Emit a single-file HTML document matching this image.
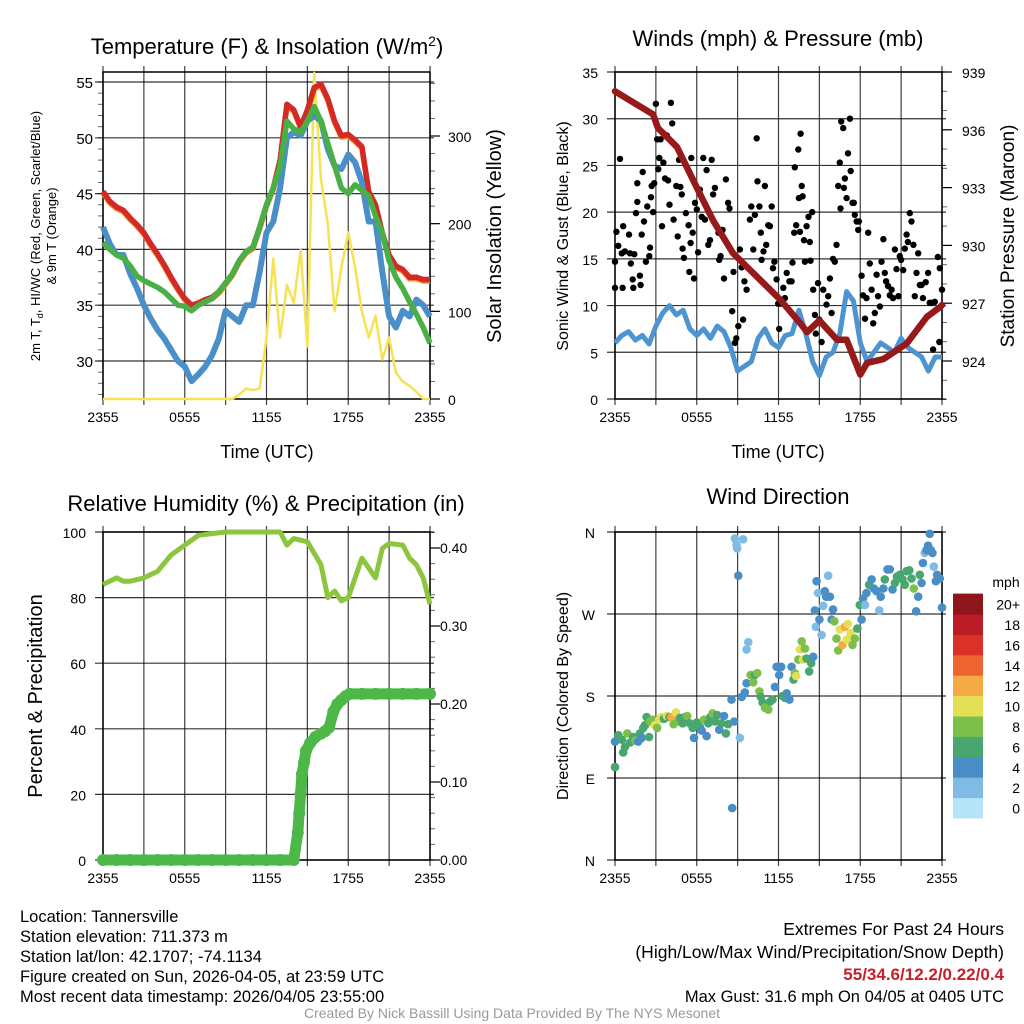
<!DOCTYPE html>
<html><head><meta charset="utf-8"><style>
html,body{margin:0;padding:0;background:#fff;}
svg{display:block;font-family:"Liberation Sans",Arial,sans-serif;}
</style></head><body>
<svg id="fig" width="1024" height="1024" viewBox="0 0 1024 1024" xmlns="http://www.w3.org/2000/svg">
<rect x="0" y="0" width="1024" height="1024" fill="#fff"/>
<g id="p1"></g>
<g id="p2"></g>
<g id="p3"></g>
<g id="p4"></g>
<g font-size="16.5" fill="#000">
<text x="20" y="922">Location: Tannersville</text>
<text x="20" y="942">Station elevation: 711.373 m</text>
<text x="20" y="962">Station lat/lon: 42.1707; -74.1134</text>
<text x="20" y="982">Figure created on Sun, 2026-04-05, at 23:59 UTC</text>
<text x="20" y="1002">Most recent data timestamp: 2026/04/05 23:55:00</text>
</g>
<g text-anchor="end" fill="#000">
<text x="1004" y="935" font-size="17.5">Extremes For Past 24 Hours</text>
<text x="1004" y="958" font-size="17.5">(High/Low/Max Wind/Precipitation/Snow Depth)</text>
<text x="1004" y="980" font-size="17" font-weight="bold" fill="#c8202a">55/34.6/12.2/0.22/0.4</text>
<text x="1004" y="1002" font-size="16.5">Max Gust: 31.6 mph On 04/05 at 0405 UTC</text>
</g>
<text x="512" y="1018" font-size="14" fill="#999" text-anchor="middle">Created By Nick Bassill Using Data Provided By The NYS Mesonet</text>
</svg>
<script>
// ---------- DATA ----------
const xTickLabels = ["2355","0555","1155","1755","2355"];
const tHalf = [0,0.5,1,1.5,2,2.5,3,3.5,4,4.5,5,5.5,6,6.5,7,7.5,8,8.5,9,9.5,10,10.5,11,11.5,12,12.5,13,13.5,14,14.5,15,15.5,16,16.5,17,17.5,18,18.5,19,19.5,20,20.5,21,21.5,22,22.5,23,23.5,24];
const tempRed = [45.2,44.3,43.8,43.5,42.8,42.2,41.5,40.5,39.6,38.6,37.5,36.5,35.6,35.0,35.2,35.5,35.7,36.2,37.0,37.8,39.0,39.8,40.2,42.0,44.0,45.5,48.0,53.0,52.5,51.0,52.5,54.5,54.8,53.5,51.5,50.2,50.3,49.8,49.2,45.2,44.0,41.5,39.5,38.5,38.2,37.5,37.5,37.3,37.3];
const tempGreen = [40.6,40.0,39.5,39.2,38.5,37.6,37.2,36.9,36.6,36.2,35.6,35.0,34.9,34.5,35.0,35.3,35.6,36.2,37.0,37.8,39.0,39.8,40.2,42.0,44.0,45.5,47.5,51.5,50.8,50.5,51.5,52.8,51.5,49.5,47.5,45.5,45.0,45.8,45.3,44.8,43.0,41.5,39.0,37.5,36.5,35.3,34.2,33.0,31.6];
const tempBlue = [42.0,40.5,39.5,39.5,37.8,36.5,35.0,33.8,32.8,32.0,31.0,30.0,29.5,28.2,28.8,29.5,30.5,32.0,34.5,34.0,33.5,35.0,35.0,38.0,41.5,42.5,45.5,50.0,50.5,50.2,51.5,52.0,51.5,49.0,47.5,47.2,48.5,47.8,46.0,42.5,42.5,38.0,34.0,33.0,34.5,34.0,35.5,35.0,34.0];
const solar = [0,0,0,0,0,0,0,0,0,0,0,0,0,0,0,0,0,0,0,0,5,12,10,12,70,160,70,130,110,170,60,380,250,200,100,150,190,150,100,70,95,45,70,30,20,15,8,0,0];
const yTicksTemp = [30,35,40,45,50,55];
const yTicksSolar = [0,100,200,300];

const windBlue = [6.0,6.8,7.2,6.3,6.8,5.9,7.8,9.2,10.0,9.0,9.5,7.5,6.8,7.5,6.5,7.8,7.2,5.5,3.0,3.5,4.0,6.5,7.5,6.0,5.5,6.8,7.0,9.5,7.0,4.0,2.5,4.5,5.0,7.0,11.5,10.5,6.0,4.0,5.0,6.0,5.5,5.0,6.5,5.5,5.0,4.5,3.0,4.5,4.5];
const presT = [0,2.8,3.15,4.55,6.0,7.2,8.65,10.1,12.1,13.55,14.1,15.0,16.3,17.0,18.0,18.5,19.7,21.4,22.9,23.85,24];
const presV = [938.0,936.8,936.1,935.1,933.0,931.3,929.6,928.6,927.2,926.0,925.5,926.1,925.1,925.1,923.3,923.9,924.1,924.9,926.3,926.8,926.9];
const gustT = [0,0,0.1,0.24,0.37,0.5,0.56,0.6,0.73,1.03,1.1,1.17,1.3,1.34,1.42,1.54,1.64,1.64,1.83,1.88,1.96,2.03,2.13,2.27,2.37,2.52,2.57,2.64,2.69,2.8,2.88,3.0,3.1,3.18,3.25,3.35,3.45,3.55,3.67,3.8,3.9,4.0,4.1,4.2,4.3,4.5,4.6,4.7,4.8,4.9,4.96,5.06,5.2,5.4,5.45,5.55,5.6,5.7,5.8,5.87,6.0,6.1,6.23,6.36,6.48,6.6,6.72,6.85,6.97,7.1,7.2,7.33,7.45,7.6,7.65,7.75,7.9,8.0,8.14,8.3,8.4,8.6,8.7,8.8,8.9,9.05,9.17,9.3,9.4,9.5,9.66,9.9,10.0,10.15,10.27,10.4,10.46,10.6,10.7,10.76,10.9,11.0,11.1,11.25,11.37,11.5,11.6,11.7,11.86,11.98,12.05,12.2,12.35,12.47,12.6,12.8,12.96,13.03,13.15,13.2,13.3,13.45,13.5,13.57,13.62,13.7,13.77,13.87,13.94,14.06,14.2,14.3,14.35,14.47,14.55,14.67,14.74,14.9,15.0,15.16,15.28,15.52,15.65,15.77,15.9,16.0,16.13,16.26,16.38,16.5,16.55,16.6,16.75,16.8,16.87,17.0,17.1,17.24,17.3,17.43,17.53,17.6,17.73,17.85,17.9,18.1,18.2,18.35,18.46,18.58,18.7,18.83,18.95,19.07,19.2,19.3,19.44,19.56,19.7,19.8,19.9,20.04,20.17,20.3,20.4,20.54,20.66,20.8,20.9,21.0,21.15,21.27,21.4,21.5,21.64,21.76,21.9,22.0,22.13,22.25,22.37,22.5,22.6,22.8,22.98,23.1,23.2,23.35,23.47,23.7,23.84,23.8,24.0];
const gustV = [14.7,11.9,17.9,16.4,25.7,15.6,11.9,18.5,15.8,17.6,15.6,14.5,12.8,11.9,15.5,19.9,23.1,21.1,13.2,12.2,17.6,24.3,19.0,14.7,20.6,15.3,16.2,21.6,22.8,20.0,23.1,31.6,27.8,24.6,25.8,27.8,18.5,25.3,23.6,28.2,23.4,20.8,31.7,29.5,19.2,22.8,17.4,25.6,22.7,21.9,16.1,15.1,19.9,18.6,13.6,16.7,25.8,17.8,12.9,21.0,20.3,15.7,22.4,19.5,25.8,19.2,24.5,16.5,17.0,25.6,21.9,22.6,18.5,17.8,14.9,15.3,18.1,12.9,23.5,21.0,20.4,9.4,13.6,6.0,6.5,7.8,16.0,14.1,8.5,12.6,11.7,19.2,20.6,16.0,19.7,27.9,23.3,20.6,17.8,14.9,15.8,22.8,16.5,18.6,18.5,20.6,14.0,14.7,12.8,10.2,7.5,10.2,11.9,10.8,13.5,12.6,12.6,14.6,17.8,24.8,18.6,26.7,21.5,17.9,28.4,22.8,21.7,17.0,14.7,18.5,19.5,16.8,14.8,20.0,11.7,9.0,7.0,12.4,8.5,6.1,11.7,10.1,11.0,12.9,9.2,15.0,14.7,16.5,22.8,25.3,20.4,29.7,29.0,22.6,23.6,21.5,26.3,30.0,24.4,21.0,21.0,19.7,19.0,18.1,19.0,13.2,11.1,8.6,10.8,17.8,14.5,11.7,8.1,9.2,13.3,11.0,9.9,14.7,17.1,13.5,12.6,12.1,11.1,11.7,10.8,16.0,13.9,11.0,15.3,14.9,13.8,16.1,17.6,16.8,19.9,19.0,16.5,11.0,13.5,15.6,12.2,12.2,10.8,12.5,13.5,10.3,10.3,5.3,10.4,15.2,14.0,6.1,11.7];
const yTicksWind = [0,5,10,15,20,25,30,35];
const yTicksPres = [924,927,930,933,936,939];

const rhT = [0,1,1.5,2,3,4,5,6,7,8,9,10,11,12,13,13.5,14,15,16,16.5,17,17.5,18,18.5,19,19.5,20,20.5,21,22,22.5,23,23.5,24];
const rhV = [84,86,85,85,86,88,93,96,99,99.5,100,100,100,100,100,96,98,97,90,80,82,79,80,86,92,89,86,95,96.5,96,92,90,86,78];
const precipT = [0,1,2,3,4,5,6,7,8,9,10,11,12,13,14,14.3,14.4,14.5,14.6,14.75,14.9,15.2,15.6,16.0,16.3,16.6,16.9,17.2,17.5,17.8,18.1,19,20,21,22,23,24];
const precipV = [0,0,0,0,0,0,0,0,0,0,0,0,0,0,0,0.035,0.06,0.085,0.11,0.125,0.14,0.15,0.158,0.162,0.165,0.17,0.19,0.20,0.205,0.21,0.213,0.213,0.213,0.213,0.213,0.213,0.213];
const yTicksRH = [0,20,40,60,80,100];
const yTicksPrecip = [0,0.1,0.2,0.3,0.4];
const precipLabels = ["0.00","0.10","0.20","0.30","0.40"];

const dirT = [0,0,0.25,0.5,0.6,0.73,0.9,1.1,1.34,1.5,1.7,1.83,1.96,2.08,2.2,2.32,2.5,2.57,2.76,2.93,3.1,3.25,3.4,3.6,3.8,4.0,4.15,4.3,4.47,4.65,4.77,4.96,5.13,5.3,5.5,5.7,5.8,6.0,6.23,6.36,6.53,6.72,6.85,7.0,7.16,7.33,7.5,7.65,7.8,8.0,8.14,8.3,8.55,8.6,8.75,8.8,8.92,8.97,9.05,9.17,9.3,9.4,9.53,9.66,9.78,9.66,9.95,10.15,10.27,10.44,10.6,10.7,10.83,11.0,11.25,11.4,11.56,11.74,11.86,12.05,12.2,12.3,12.47,12.6,12.8,12.96,13.1,13.2,13.3,13.45,13.57,13.7,13.8,13.94,14.06,14.25,14.4,14.55,14.67,14.74,14.8,14.9,15.0,15.16,15.28,15.4,15.5,15.65,15.77,15.9,16.0,16.1,16.26,16.38,16.5,16.7,16.87,17.0,17.1,17.3,17.43,17.6,17.78,17.97,18.1,18.2,18.35,18.46,18.65,18.83,19.0,19.2,19.4,19.5,19.7,19.8,20.0,20.17,20.37,20.54,20.7,20.9,21.1,21.27,21.4,21.6,21.76,21.93,22.1,22.25,22.37,22.5,22.6,22.73,22.86,22.98,23.1,23.18,23.3,23.4,23.55,23.64,23.84,24.0];
const dirDeg = [102,130,137,132,118,124,139,129,135,131,130,139,134,145,148,157,135,152,154,148,145,154,157,155,158,157,157,149,162,152,156,150,157,158,150,145,134,151,146,142,154,136,150,157,161,152,159,143,150,158,139,149,176,57,152,353,346,342,312,134,179,352,184,231,239,194,203,195,203,205,185,179,173,167,165,174,176,190,212,203,212,180,178,183,176,212,198,205,202,220,231,240,220,232,221,207,216,223,274,256,306,293,264,247,279,295,289,312,289,264,275,262,243,230,253,236,256,242,259,249,236,243,254,280,264,287,280,293,302,308,298,295,274,289,298,308,319,319,297,304,311,313,308,302,317,318,309,298,273,289,313,304,326,337,340,345,358,340,337,322,306,313,309,277];
const dirSpd = [7,5,7,7,7,7,9,7,7,9,5,7,5,7,7,7,7,9,9,10.5,9,10.5,10.5,7,10.5,7,12.5,9,10.5,9,7,7,7,9,7,7,5,7,7,5,9,5,7,7,9,7,7,5,7,5,7,7,5,5,5,3,3,3,5,3,5,3,5,3,3,5,9,9,7,9,9,7,7,9,9,7,7,5,5,5,5,7,7,5,5,5,7,9,10.5,9,10.5,9,10.5,9,7,7,7,5,5,3,5,3,5,3,3,5,5,3,5,5,5,9,9,9,10.5,12.5,12.5,10.5,10.5,10.5,9,9,7,7,5,5,3,5,7,5,5,5,3,5,5,7,5,5,5,7,7,7,7,7,7,7,7,9,5,5,7,5,5,3,5,5,5,5,5,3,5,5,5,5];
const dirLabels = ["N","E","S","W","N"];
const dirTicks = [0,90,180,270,360];
const cbarLabels = ["0","2","4","6","8","10","12","14","16","18","20+"];
const cbarColors = ["#b5e3f8","#7fbbe4","#4a8ec6","#48a66e","#7cc04b","#e5df55","#f5aa45","#ee6431","#db3128","#bb1c25","#8c1619"];

// ---------- HELPERS ----------
const NS="http://www.w3.org/2000/svg";
function mk(parent,tag,attrs,text){const e=document.createElementNS(NS,tag);for(const k in attrs)e.setAttribute(k,attrs[k]);if(text!==undefined)e.textContent=text;parent.appendChild(e);return e;}
function lin(d0,d1,r0,r1){return v=>r0+(v-d0)/(d1-d0)*(r1-r0);}
function grid(g,L,R,T,B,xs,yVals,ys){
  for(let h=0;h<=24;h+=3){const x=xs(h);
    const l=mk(g,'line',{x1:x,x2:x,y1:T-6,y2:B+6,stroke:'#000','stroke-width':1.2,'stroke-opacity':0.75});
    
    }
  yVals.forEach(v=>{const y=ys(v);
    const l=mk(g,'line',{x1:L-8,x2:R+4,y1:y,y2:y,stroke:'#000','stroke-width':1.2,'stroke-opacity':0.8});
    
    });
  const fr=mk(g,'rect',{x:L,y:T,width:R-L,height:B-T,fill:'none',stroke:'#000','stroke-width':1.5});
  
  
  xTickLabels.forEach((s,i)=>{
    const t=mk(g,'text',{x:xs(i*6),y:B+23,'font-size':14,'text-anchor':'middle'},s);
    
    });
}
function minor(g,x,ys,lo,hi,step,dir){
  for(let v=lo;v<=hi+1e-9;v+=step){const y=ys(v);
    const l=mk(g,'line',{x1:x,x2:x+dir*5,y1:y,y2:y,stroke:'#000','stroke-width':1,'stroke-opacity':0.6});
    
    }
}
function pathD(ts,vs,xs,ys){return ts.map((t,i)=>(i?'L':'M')+xs(t).toFixed(1)+','+ys(vs[i]).toFixed(1)).join('');}
function label(g,x,y,s,size,anchor,name,rot){
  const a={x:x,y:y,'font-size':size,'text-anchor':anchor||'middle'};
  if(rot)a.transform='rotate(-90 '+x+' '+y+')';
  const t=mk(g,'text',a,s);
  
  
  return t;
}

// ---------- PANEL 1 ----------
(function(){
  const g=document.getElementById('p1');
  const L=103,R=430,T=72,B=399;
  const xs=lin(0,24,L,R), ys=lin(30,55,361,82), yS=lin(0,300,399,136);
  grid(g,L,R,T,B,xs,yTicksTemp,ys);
  minor(g,L,ys,27,55,1,-1); minor(g,R,yS,0,370,20,1);
  yTicksSolar.forEach(v=>{const l=mk(g,'line',{x1:R,x2:R+10,y1:yS(v),y2:yS(v),stroke:'#000','stroke-width':1.2});
    
    });
  yTicksTemp.forEach(v=>label(g,L-10,ys(v)+6,String(v),15,'end','y-tick-label'));
  yTicksSolar.forEach(v=>label(g,R+18,yS(v)+6,String(v),14,'start','y2-tick-label'));
  const cl=[['#f08a30',tempRed,'orange-9m-temp-line',5.5],['#d42a26',tempRed,'red-2m-temp-line',5.5],['#4a8fc9',tempBlue,'blue-dewpoint-line',6],['#48b044',tempGreen,'green-line',5.5]];
  const sol=mk(g,'path',{d:pathD(tHalf,solar.map(v=>Math.min(v,372)),xs,yS),fill:'none',stroke:'#f7e254','stroke-width':2.5,'stroke-linejoin':'round'});
  
  
  cl.forEach(c=>{const p=mk(g,'path',{d:pathD(tHalf,c[1],xs,ys),fill:'none',stroke:c[0],'stroke-width':c[3],'stroke-linejoin':'round'});
    if(c[0]==='#f08a30')p.setAttribute('transform','translate(0,1.5)');
    
    });
  const tt=mk(g,'text',{x:267,y:54,'font-size':22,'text-anchor':'middle'});
  
  
  tt.innerHTML='Temperature (F) &amp; Insolation (W/m<tspan dy="-8" font-size="14">2</tspan><tspan dy="8">)</tspan>';
  const yt=mk(g,'text',{x:40,y:236,'font-size':13,'text-anchor':'middle',transform:'rotate(-90 40 236)'});
  
  
  yt.innerHTML='2m T, T<tspan dy="3" font-size="9">d</tspan><tspan dy="-3">, HI/WC (Red, Green, Scarlet/Blue)</tspan>';
  label(g,56,236,'& 9m T (Orange)',13,'middle','y-axis-title-line2',true);
  label(g,501,236,'Solar Insolation (Yellow)',20,'middle','y2-axis-title',true);
  label(g,267,458,'Time (UTC)',18,'middle','x-axis-title');
})();

// ---------- PANEL 2 ----------
(function(){
  const g=document.getElementById('p2');
  const L=615,R=942,T=72,B=399;
  const xs=lin(0,24,L,R), ys=lin(0,35,399,72), yP=lin(924,939,361,72);
  grid(g,L,R,T,B,xs,yTicksWind,ys);
  minor(g,R,yP,922,939,1,1);
  yTicksPres.forEach(v=>{const l=mk(g,'line',{x1:R,x2:R+10,y1:yP(v),y2:yP(v),stroke:'#000','stroke-width':1.2});
    
    });
  yTicksWind.forEach(v=>label(g,L-17,ys(v)+6,String(v),14,'end','y-tick-label'));
  yTicksPres.forEach(v=>label(g,R+20,yP(v)+6,String(v),14,'start','y2-tick-label'));
  const wb=mk(g,'path',{d:pathD(tHalf,windBlue,xs,ys),fill:'none',stroke:'#4d94d0','stroke-width':5,'stroke-linejoin':'round'});
  
  
  gustT.forEach((t,i)=>{const c=mk(g,'circle',{cx:xs(t).toFixed(1),cy:ys(gustV[i]).toFixed(1),r:3.2,fill:'#000'});
    
    });
  const pr=mk(g,'path',{d:pathD(presT,presV,xs,yP),fill:'none',stroke:'#961a1a','stroke-width':6.5,'stroke-linejoin':'round','stroke-linecap':'round'});
  
  
  label(g,778,46,'Winds (mph) & Pressure (mb)',22,'middle','winds-title');
  label(g,568,236,'Sonic Wind & Gust (Blue, Black)',16,'middle','y-axis-title',true);
  label(g,1014,236,'Station Pressure (Maroon)',19,'middle','y2-axis-title',true);
  label(g,778,458,'Time (UTC)',18,'middle','x-axis-title');
})();

// ---------- PANEL 3 ----------
(function(){
  const g=document.getElementById('p3');
  const L=103,R=430,T=532,B=860;
  const xs=lin(0,24,L,R), ys=lin(0,100,860,532), yP=lin(0,0.4,860,548);
  grid(g,L,R,T,B,xs,yTicksRH,ys);
  minor(g,R,yP,0,0.42,0.02,1);
  yTicksPrecip.forEach(v=>{const l=mk(g,'line',{x1:R,x2:R+10,y1:yP(v),y2:yP(v),stroke:'#000','stroke-width':1.2});
    
    });
  yTicksRH.forEach(v=>label(g,L-17,ys(v)+6,String(v),14,'end','y-tick-label'));
  yTicksPrecip.forEach((v,i)=>label(g,R+10,yP(v)+5,precipLabels[i],14,'start','y2-tick-label'));
  const rh=mk(g,'path',{d:pathD(rhT,rhV,xs,ys),fill:'none',stroke:'#8cc63f','stroke-width':5,'stroke-linejoin':'round'});
  
  
  const pl=mk(g,'path',{d:pathD(precipT,precipV,xs,yP),fill:'none',stroke:'#4db848','stroke-width':11,'stroke-linejoin':'round','stroke-linecap':'round'});
  
  
  precipT.forEach((t,i)=>{const c=mk(g,'circle',{cx:xs(t).toFixed(1),cy:yP(precipV[i]).toFixed(1),r:6,fill:'#4db848'});
    
    });
  label(g,266,511,'Relative Humidity (%) & Precipitation (in)',22,'middle','humidity-title');
  label(g,42,696,'Percent & Precipitation',20,'middle','y-axis-title',true);
})();

// ---------- PANEL 4 ----------
(function(){
  const g=document.getElementById('p4');
  const L=615,R=942,T=532,B=860;
  const xs=lin(0,24,L,R), ys=lin(0,360,860,532);
  grid(g,L,R,T,B,xs,dirTicks,ys);
  dirTicks.forEach((v,i)=>label(g,L-20,ys(v)+6,dirLabels[i],14,'end','y-tick-label'));
  dirT.forEach((t,i)=>{const bin=Math.min(10,Math.floor(dirSpd[i]/2));
    const c=mk(g,'circle',{cx:xs(t).toFixed(1),cy:ys(dirDeg[i]).toFixed(1),r:4.3,fill:cbarColors[bin]});
    
    });
  cbarColors.forEach((col,i)=>{const y=818-(i+1)*20.4;
    const r=mk(g,'rect',{x:953,y:y.toFixed(1),width:30,height:20.9,fill:col});
    
    
    label(g,1020,y+16,cbarLabels[i],14,'end','colorbar-label');});
  label(g,1006,587,'mph',14,'middle','colorbar-title');
  label(g,778,504,'Wind Direction',22,'middle','wind-direction-title');
  label(g,568,696,'Direction (Colored By Speed)',16,'middle','y-axis-title',true);
})();
</script>
</body></html>
